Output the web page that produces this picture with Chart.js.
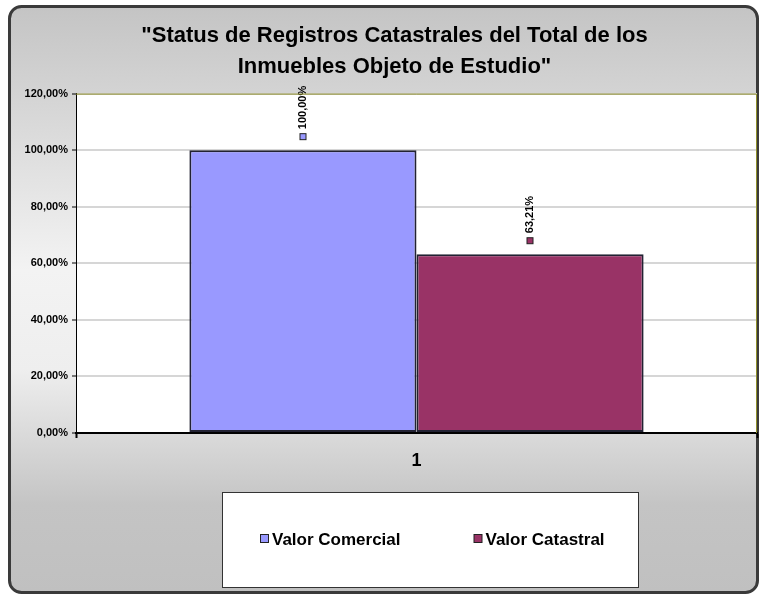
<!DOCTYPE html>
<html lang="es">
<head>
    <meta charset="UTF-8">
    <title>Status de Registros Catastrales</title>
    <script src="https://cdn.jsdelivr.net/npm/chart.js"></script>
    <style>
        body { margin: 0; background: #ffffff; }
        .chart-container { width: 760px; height: 595px; }
    </style>
</head>
<body>
    <div class="chart-container">
        <canvas id="statusChart" width="760" height="595"></canvas>
    </div>

    <script>
        // datos
        const categories = ['1'];
        const seriesNames = ['Valor Comercial', 'Valor Catastral'];
        const valorComercial = [100];
        const valorCatastral = [63.21];
        const seriesColors = ['#9999FF', '#993366'];
        const yMax = 120;
        const yStep = 20;
        const titleLines = ['"Status de Registros Catastrales del Total de los', 'Inmuebles Objeto de Estudio"'];

        const FONT = 'Arial, "Liberation Sans", sans-serif';
        const fmtPct = v => v.toFixed(2).replace('.', ',') + '%';

        // fondo redondeado con degradado y area de trazado blanca
        const backgroundPlugin = {
            id: 'background',
            afterLayout(chart) {
                // el titulo del original esta algo corrido a la derecha
                if (chart.titleBlock) chart.titleBlock.left += 22;
            },
            beforeDraw(chart) {
                const ctx = chart.ctx;
                const a = chart.chartArea;
                ctx.save();
                ctx.fillStyle = '#ffffff';
                ctx.fillRect(0, 0, chart.width, chart.height);
                const g = ctx.createLinearGradient(0, 6, 0, 593);
                g.addColorStop(0, '#c4c4c4');
                g.addColorStop(0.45, '#f3f3f3');
                g.addColorStop(0.62, '#eeeeee');
                g.addColorStop(0.85, '#c4c4c4');
                g.addColorStop(1, '#c0c0c0');
                ctx.beginPath();
                ctx.roundRect(9.5, 6.5, 748, 586, 12);
                ctx.fillStyle = g;
                ctx.fill();
                ctx.lineWidth = 3;
                ctx.strokeStyle = '#3a3a3a';
                ctx.stroke();
                ctx.fillStyle = '#ffffff';
                ctx.fillRect(a.left, a.top, a.right - a.left, a.bottom - a.top);
                ctx.restore();
            },
            afterDraw(chart) {
                const ctx = chart.ctx;
                const a = chart.chartArea;
                ctx.save();
                ctx.strokeStyle = '#8f8f2a';
                ctx.lineWidth = 1;
                ctx.beginPath();
                ctx.moveTo(a.left, a.top + 0.5);
                ctx.lineTo(a.right - 0.5, a.top + 0.5);
                ctx.lineTo(a.right - 0.5, a.bottom);
                ctx.stroke();
                ctx.restore();
            }
        };

        // etiquetas de valor giradas con su clave de color
        const valueLabelPlugin = {
            id: 'valueLabels',
            afterDatasetsDraw(chart) {
                const ctx = chart.ctx;
                ctx.save();
                chart.data.datasets.forEach((ds, i) => {
                    chart.getDatasetMeta(i).data.forEach((bar, j) => {
                        const x = Math.round(bar.x) - 0.5;
                        const sy = bar.y - 14;
                        ctx.fillStyle = ds.backgroundColor;
                        ctx.fillRect(x - 2.5, sy - 2.5, 6, 6);
                        ctx.strokeStyle = '#222';
                        ctx.lineWidth = 1;
                        ctx.strokeRect(x - 2.5, sy - 2.5, 6, 6);
                        ctx.translate(x + 0.5, sy - 7);
                        ctx.rotate(-Math.PI / 2);
                        ctx.fillStyle = '#000';
                        ctx.font = 'bold 11px ' + FONT;
                        ctx.textAlign = 'left';
                        ctx.textBaseline = 'middle';
                        ctx.fillText(fmtPct(ds.data[j]), 0, 0);
                        ctx.setTransform(1, 0, 0, 1, 0, 0);
                    });
                });
                ctx.restore();
            }
        };

        // leyenda en recuadro blanco bajo el eje
        const legendBox = { left: 222, top: 492, width: 416, height: 95, padLeft: 38, gap: 73 };
        const boxLegendPlugin = {
            id: 'boxLegend',
            afterDraw(chart) {
                const ctx = chart.ctx;
                const b = legendBox;
                ctx.save();
                ctx.fillStyle = '#ffffff';
                ctx.fillRect(b.left, b.top, b.width, b.height);
                ctx.strokeStyle = '#333';
                ctx.lineWidth = 1;
                ctx.strokeRect(b.left + 0.5, b.top + 0.5, b.width, b.height);
                ctx.font = 'bold 17px ' + FONT;
                ctx.textBaseline = 'middle';
                ctx.textAlign = 'left';
                const cy = b.top + 47;
                let x = b.left + b.padLeft;
                chart.data.datasets.forEach(ds => {
                    ctx.fillStyle = ds.backgroundColor;
                    ctx.fillRect(x + 0.5, cy - 4.5, 8, 8);
                    ctx.strokeStyle = '#222';
                    ctx.strokeRect(x + 0.5, cy - 4.5, 8, 8);
                    ctx.fillStyle = '#000';
                    ctx.fillText(ds.label, x + 12, cy + 1);
                    x += 12 + ctx.measureText(ds.label).width + b.gap;
                });
                ctx.restore();
            }
        };

        const ctx = document.getElementById('statusChart').getContext('2d');
        new Chart(ctx, {
            type: 'bar',
            data: {
                labels: categories,
                datasets: [
                    { label: seriesNames[0], data: valorComercial, backgroundColor: seriesColors[0] },
                    { label: seriesNames[1], data: valorCatastral, backgroundColor: seriesColors[1] }
                ]
            },
            options: {
                responsive: false,
                animation: false,
                layout: { padding: { top: 21, left: 10, right: 3, bottom: 0 } },
                datasets: {
                    bar: {
                        categoryPercentage: 0.667,
                        barPercentage: 1,
                        borderColor: '#222233',
                        borderWidth: 2,
                        borderSkipped: false
                    }
                },
                scales: {
                    x: {
                        grid: { drawOnChartArea: false, drawTicks: true, tickLength: 5, tickColor: '#000', tickWidth: 2 },
                        border: { color: '#000', width: 2 },
                        ticks: { color: '#000', font: { family: FONT, size: 18, weight: 'bold' }, padding: 12 },
                        afterFit: s => { s.height = 162; }
                    },
                    y: {
                        min: 0,
                        max: yMax,
                        ticks: {
                            stepSize: yStep,
                            color: '#000',
                            font: { family: FONT, size: 11, weight: 'bold' },
                            padding: 4,
                            callback: v => fmtPct(v)
                        },
                        grid: { color: '#d6d6d6', lineWidth: 2, tickLength: 4, tickColor: '#000', tickWidth: 1 },
                        border: { color: '#000', width: 1 },
                        afterFit: s => { s.width = 66; }
                    }
                },
                plugins: {
                    legend: { display: false },
                    tooltip: { enabled: false },
                    title: {
                        display: true,
                        text: titleLines,
                        color: '#000',
                        font: { family: FONT, size: 22, weight: 'bold', lineHeight: 1.4 },
                        padding: { top: 0, bottom: 11 }
                    }
                }
            },
            plugins: [backgroundPlugin, valueLabelPlugin, boxLegendPlugin]
        });
    </script>
</body>
</html>
